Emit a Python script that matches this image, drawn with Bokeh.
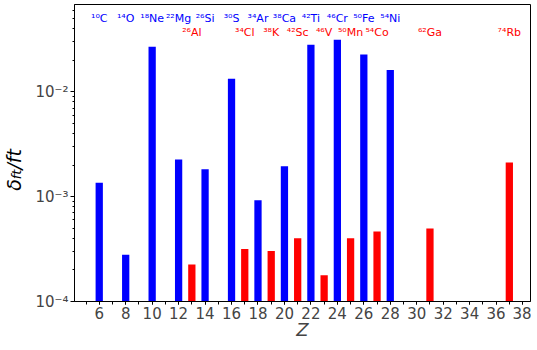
from bokeh.plotting import figure
from bokeh.models import FixedTicker, CustomJSTickFormatter, ColumnDataSource, Range1d, Div
from bokeh.layouts import row
from bokeh.core.properties import value
from bokeh.embed import file_html
from bokeh.resources import INLINE

# ---- data ----
blue_Z = [6, 8, 10, 12, 14, 16, 18, 20, 22, 24, 26, 28]
blue_val = [1.355e-3, 2.79e-4, 2.69e-2, 2.26e-3, 1.83e-3, 1.33e-2,
            9.23e-4, 1.95e-3, 2.81e-2, 3.13e-2, 2.27e-2, 1.61e-2]
blue_names = ["¹⁰C", "¹⁴O", "¹⁸Ne", "²²Mg", "²⁶Si", "³⁰S",
              "³⁴Ar", "³⁸Ca", "⁴²Ti", "⁴⁶Cr", "⁵⁰Fe", "⁵⁴Ni"]

red_Z = [13, 17, 19, 21, 23, 25, 27, 31, 37]
red_val = [2.25e-4, 3.17e-4, 3.03e-4, 4.01e-4, 1.78e-4, 4.01e-4,
           4.66e-4, 4.97e-4, 2.12e-3]
red_names = ["²⁶Al", "³⁴Cl", "³⁸K", "⁴²Sc", "⁴⁶V", "⁵⁰Mn",
             "⁵⁴Co", "⁶²Ga", "⁷⁴Rb"]

x_ticks = list(range(6, 39, 2))
x_minor = list(range(5, 39))
y_ticks = [1e-4, 1e-3, 1e-2]
y_minor = [k * 10.0 ** e for e in (-4, -3, -2) for k in range(2, 10) if k * 10.0 ** e < 0.068]

X_MIN, X_MAX = 4.13, 38.6
Y_MIN, Y_MAX = 1e-4, 0.068
BLUE = "#0000ff"
RED = "#ff0000"
FONT = "DejaVu Sans"

LABEL_W = 22
TOTAL_W = 521
TOTAL_H = 342

p = figure(width=TOTAL_W - LABEL_W, height=TOTAL_H, y_axis_type="log",
           x_range=Range1d(X_MIN, X_MAX), y_range=Range1d(Y_MIN, Y_MAX),
           output_backend="svg", toolbar_location=None,
           min_border_left=38, min_border_right=1, min_border_top=4, min_border_bottom=0)

p.xgrid.visible = False
p.ygrid.visible = False
p.outline_line_color = "black"
p.outline_line_width = 1
p.background_fill_color = "white"
p.border_fill_color = "white"

blue_src = ColumnDataSource(dict(x=blue_Z, top=blue_val, name=blue_names))
red_src = ColumnDataSource(dict(x=red_Z, top=red_val, name=red_names))

p.vbar(x="x", top="top", bottom=Y_MIN, width=0.55, source=blue_src,
       fill_color=BLUE, line_color=None)
p.vbar(x="x", top="top", bottom=Y_MIN, width=0.55, source=red_src,
       fill_color=RED, line_color=None)

p.text(x="x", y=0.0498, text="name", source=blue_src, text_color=BLUE,
       text_font=value(FONT), text_font_size="11px",
       text_align="center", text_baseline="alphabetic")
p.text(x="x", y=0.0366, text="name", source=red_src, text_color=RED,
       text_font=value(FONT), text_font_size="11px",
       text_align="center", text_baseline="alphabetic")

# x axis
xa = p.xaxis[0]
xa.ticker = FixedTicker(ticks=x_ticks, minor_ticks=x_minor)
xa.axis_label = "Z"
xa.axis_label_text_font = FONT
xa.axis_label_text_font_style = "italic"
xa.axis_label_text_font_size = "18px"
xa.axis_label_standoff = -3
xa.major_label_text_font = FONT
xa.major_label_text_font_size = "15px"
xa.major_label_standoff = 2
xa.major_tick_in = 0
xa.major_tick_out = 3
xa.minor_tick_in = 0
xa.minor_tick_out = 3
xa.axis_line_color = "black"
xa.major_tick_line_color = "black"
xa.minor_tick_line_color = "black"

# y axis
ya = p.yaxis[0]
ya.ticker = FixedTicker(ticks=y_ticks, minor_ticks=y_minor)
ya.formatter = CustomJSTickFormatter(code="""
const e = Math.round(Math.log10(tick));
const m = {"-":"⁻","0":"⁰","1":"¹","2":"²","3":"³","4":"⁴","5":"⁵","6":"⁶","7":"⁷","8":"⁸","9":"⁹"};
return "10" + String(e).split("").map(c => m[c]).join("");
""")
ya.major_label_text_font = FONT
ya.major_label_text_font_size = "15px"
ya.major_label_standoff = 2
ya.major_tick_in = 0
ya.major_tick_out = 4
ya.minor_tick_in = 0
ya.minor_tick_out = 2
ya.axis_line_color = "black"

# y label: delta_{ft}/ft as rotated HTML text
ylabel = Div(
    text=(
        '<div style="width:%dpx;height:330px;display:flex;align-items:center;'
        'justify-content:flex-start;box-sizing:border-box;">'
        '<span style="writing-mode:vertical-rl;transform:rotate(180deg);'
        "font-family:'DejaVu Sans';font-style:italic;font-size:19px;line-height:1;color:black;\">"
        'δ<sub style="font-size:13px;vertical-align:-3px;">ft</sub>/ft</span></div>'
    ) % LABEL_W,
    width=LABEL_W, height=TOTAL_H,
)

layout = row(ylabel, p)

open("out.html", "w", encoding="utf-8").write(file_html(layout, INLINE))
